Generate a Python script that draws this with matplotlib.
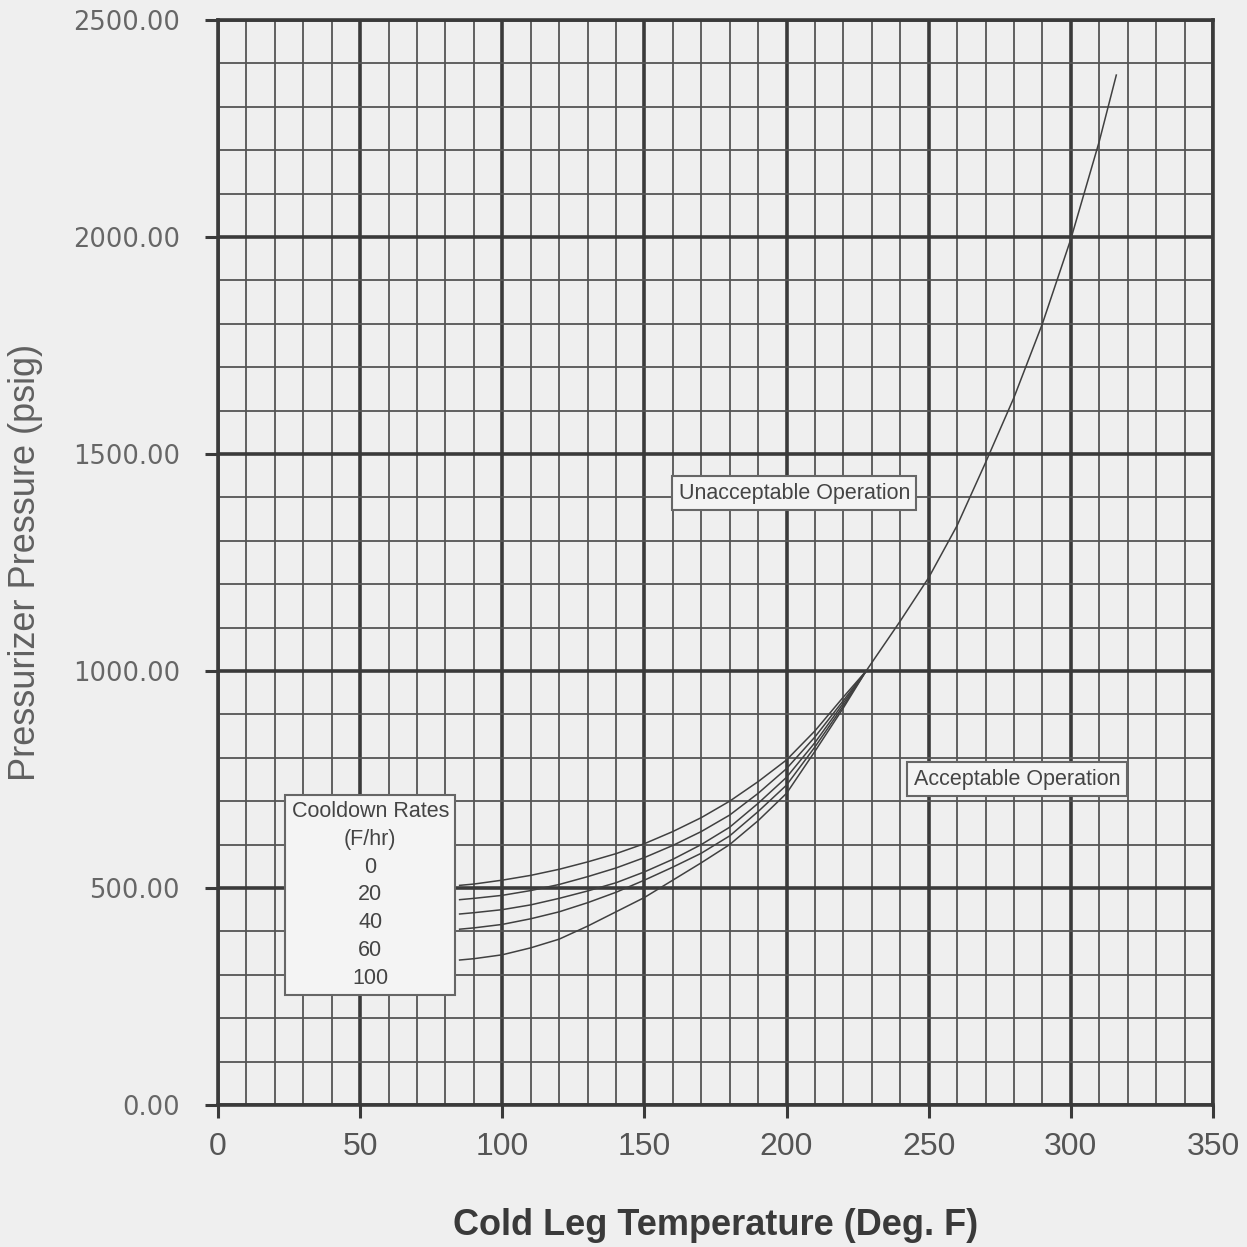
import matplotlib
matplotlib.use("Agg")
import matplotlib.pyplot as plt
from matplotlib.ticker import MultipleLocator, FormatStrFormatter

# ---- data ----
temps_low = [85, 90, 100, 110, 120, 130, 140, 150, 160, 170, 180, 190, 200, 210, 220, 228]
p_rate0   = [506, 509, 518, 529, 543, 560, 579, 602, 630, 662, 700, 745, 795, 862, 940, 1000]
p_rate20  = [473, 476, 483, 494, 508, 526, 546, 570, 598, 630, 668, 718, 775, 848, 932, 1000]
p_rate40  = [440, 443, 450, 461, 476, 493, 512, 537, 566, 600, 640, 695, 755, 835, 926, 1000]
p_rate60  = [405, 408, 416, 429, 445, 466, 490, 518, 548, 580, 620, 676, 737, 825, 920, 1000]
p_rate100 = [334, 337, 346, 362, 382, 412, 445, 478, 518, 558, 600, 655, 718, 815, 915, 1000]

temps_high = [228, 240, 250, 260, 270, 280, 290, 300, 310, 316]
p_high     = [1000, 1115, 1215, 1335, 1480, 1630, 1800, 1995, 2220, 2373]

rates = ["0", "20", "40", "60", "100"]
x_ticks = [0, 50, 100, 150, 200, 250, 300, 350]
y_ticks = [0, 500, 1000, 1500, 2000, 2500]

bg = "#efefef"
dark = "#3a3a3a"
minor_c = "#555555"
txt = "#555555"

fig = plt.figure(figsize=(12.47, 12.47), dpi=100, facecolor=bg)
ax = fig.add_axes([0.1748, 0.1139, 0.9727 - 0.1748, 0.984 - 0.1139])
ax.set_facecolor(bg)

ax.set_xlim(0, 350)
ax.set_ylim(0, 2500)
ax.set_xticks(x_ticks)
ax.set_yticks(y_ticks)
ax.xaxis.set_minor_locator(MultipleLocator(10))
ax.yaxis.set_minor_locator(MultipleLocator(100))
ax.yaxis.set_major_formatter(FormatStrFormatter("%.2f"))

ax.grid(which="major", color=dark, lw=2.6, zorder=0)
ax.grid(which="minor", color=minor_c, lw=1.3, zorder=0)
ax.set_axisbelow(True)
for s in ax.spines.values():
    s.set_color(dark)
    s.set_linewidth(2.6)

ax.tick_params(which="major", direction="out", length=9.5, width=2.2, color=dark)
ax.tick_params(which="minor", length=0)
ax.tick_params(axis="y", which="major", pad=18, labelsize=18.5, labelcolor="#666666")
ax.tick_params(axis="x", which="major", pad=10, labelsize=23, labelcolor=txt)
for lab in ax.get_yticklabels():
    lab.set_family("DejaVu Sans")
for lab in ax.get_xticklabels():
    lab.set_family(["Liberation Sans Narrow", "Liberation Sans"])

line_kw = dict(color="#404040", lw=1.1, zorder=3)
for series in [p_rate0, p_rate20, p_rate40, p_rate60, p_rate100]:
    ax.plot(temps_low, series, **line_kw)
ax.plot(temps_high, p_high, **line_kw)

ax.set_xlabel("Cold Leg Temperature (Deg. F)", fontsize=26, fontweight="bold",
              family=["Liberation Sans", "DejaVu Sans"], color="#3a3a3a", labelpad=33)
ax.set_ylabel("Pressurizer Pressure (psig)", fontsize=26, va="center",
              family=["Liberation Sans Narrow", "Liberation Sans"], color="#606060")
ax.yaxis.set_label_coords(-0.193, 0.5)

box_kw = dict(boxstyle="square,pad=0.3", facecolor="#f4f4f4", edgecolor="#666666", lw=1.5)
ax.text(202.7, 1410, "Unacceptable Operation", ha="center", va="center", fontsize=15.5,
        family="Liberation Sans", color="#444444", bbox=box_kw, zorder=5)
ax.text(281.0, 751, "Acceptable Operation", ha="center", va="center", fontsize=15.5,
        family="Liberation Sans", color="#444444", bbox=box_kw, zorder=5)
legend_txt = "Cooldown Rates\n(F/hr)\n" + "\n".join(rates)
ax.text(53.6, 484, legend_txt, ha="center", va="center", fontsize=15.5,
        family="Liberation Sans", color="#444444", linespacing=1.42,
        bbox=dict(boxstyle="square,pad=0.3", facecolor="#f4f4f4", edgecolor="#666666", lw=1.5),
        zorder=5)

fig.savefig("out.png", dpi=100, facecolor=bg)
